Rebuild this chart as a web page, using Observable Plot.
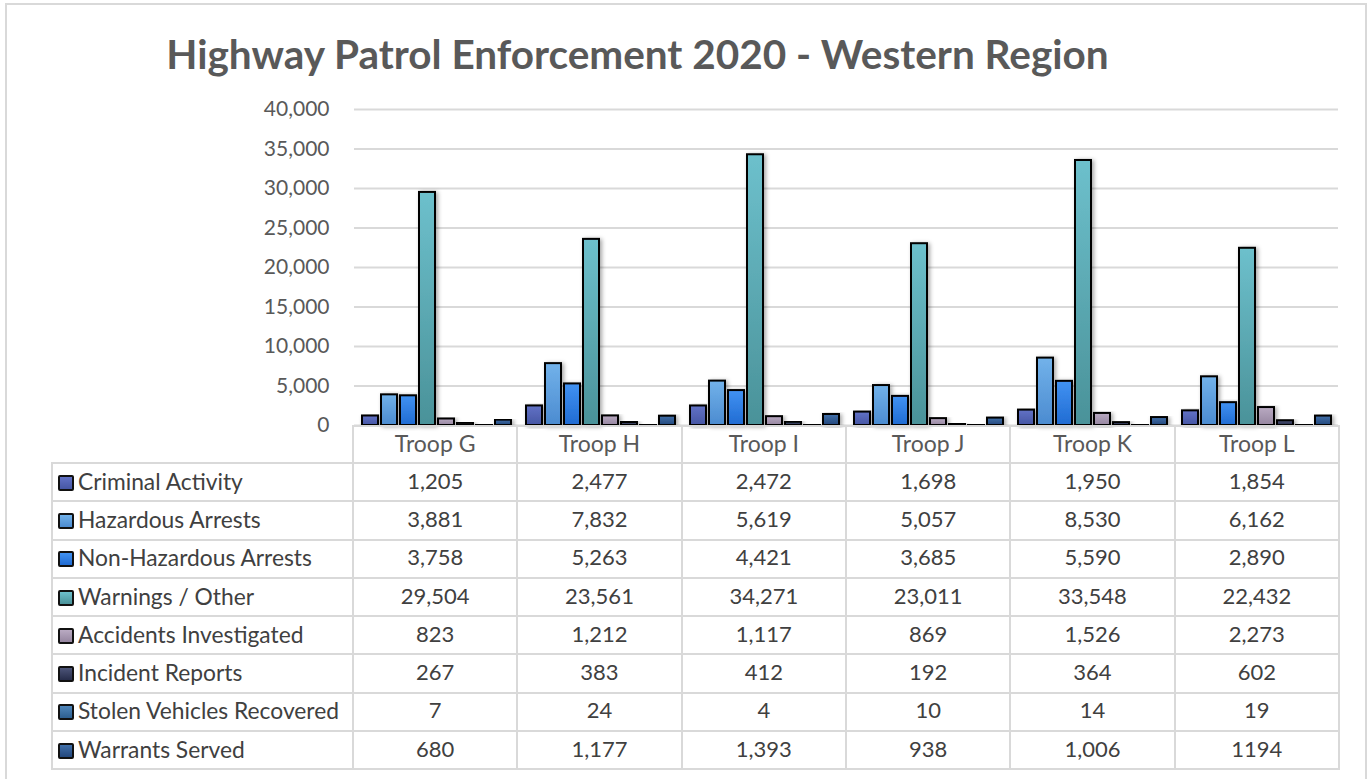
<!DOCTYPE html>
<html><head><meta charset="utf-8">
<script src="https://cdn.jsdelivr.net/npm/d3@7"></script>
<script src="https://cdn.jsdelivr.net/npm/@observablehq/plot@0.6"></script>
<style>
body{margin:0;background:#fff;width:1372px;height:779px;overflow:hidden;position:relative;font-family:Lato,"Open Sans",sans-serif;}
#frame{position:absolute;left:5px;top:3px;width:1362px;height:820px;border:2px solid #d9d9d9;border-bottom:none;box-sizing:border-box;}
#title{position:absolute;left:0;width:1275px;top:30px;text-align:center;font-size:40.5px;font-weight:bold;color:#595959;line-height:48px;}
#chart{position:absolute;left:0;top:0;}
table{position:absolute;left:51px;top:425px;border-collapse:collapse;table-layout:fixed;font-size:22px;color:#404040;}
td{border:2px solid #d9d9d9;padding:0 0 3px 0;text-align:center;white-space:nowrap;overflow:hidden;line-height:30px;}
tr{height:38.3px;}
tr.head{height:37px;}
tr.head td{color:#595959;font-size:23px;}
td.blank{border-top:hidden;border-left:hidden;}
td.lab{text-align:left;font-size:22.8px;}
.sw{display:inline-block;width:12px;height:12px;border:2px solid #111;border-radius:2px;vertical-align:-1px;margin-left:5px;margin-right:4px;}
</style></head>
<body>
<div id="frame"></div>
<div id="title">Highway Patrol Enforcement 2020 - Western Region</div>
<div id="chart"></div>
<script>
const troops = ["Troop G","Troop H","Troop I","Troop J","Troop K","Troop L"];
const series = ["Criminal Activity","Hazardous Arrests","Non-Hazardous Arrests","Warnings / Other","Accidents Investigated","Incident Reports","Stolen Vehicles Recovered","Warrants Served"];
const criminalActivity = [1205,2477,2472,1698,1950,1854];
const hazardousArrests = [3881,7832,5619,5057,8530,6162];
const nonHazardousArrests = [3758,5263,4421,3685,5590,2890];
const warningsOther = [29504,23561,34271,23011,33548,22432];
const accidentsInvestigated = [823,1212,1117,869,1526,2273];
const incidentReports = [267,383,412,192,364,602];
const stolenVehicles = [7,24,4,10,14,19];
const warrantsServed = [680,1177,1393,938,1006,1194];
const warrantsLabels = ["680","1,177","1,393","938","1,006","1194"];
const yTicks = [0,5000,10000,15000,20000,25000,30000,35000,40000];
const gradTop = ["#6272c6","#72b2ea","#4192f2","#6dc0cc","#b9aac2","#4c5478","#4f86ba","#4170aa"];
const gradBottom = ["#4656a4","#4b8bd0","#206bd2","#4a9299","#9686a0","#272d4a","#2d5f90","#23477c"];

const values = [criminalActivity,hazardousArrests,nonHazardousArrests,warningsOther,accidentsInvestigated,incidentReports,stolenVehicles,warrantsServed];
const data = series.flatMap((s,i)=>troops.map((t,j)=>({troop:t, series:s, value:values[i][j]})));
const fmt = d3.format(",");

const plot = Plot.plot({
  width:1372, height:445, marginTop:109, marginBottom:20, marginLeft:353, marginRight:34,
  style:{fontFamily:'Lato,"Open Sans",sans-serif', fontSize:"21px", color:"#595959", background:"transparent"},
  fx:{domain:troops, padding:0, axis:null, label:null},
  x:{domain:series, axis:null, paddingInner:0.18, paddingOuter:0.3},
  y:{domain:[0,40000], label:null},
  color:{domain:series, range:series.map((s,i)=>`url(#grad${i})`)},
  marks:[
    Plot.ruleY(yTicks,{stroke:"#d9d9d9", strokeWidth:2}),
    Plot.axisY({ticks:yTicks, tickFormat:fmt, tickSize:0, tickPadding:25, fontSize:21, fill:"#595959"}),
    Plot.barY(data,{fx:"troop", x:"series", y:"value", fill:"series", stroke:"#000", strokeWidth:2})
  ]
});
const svg = d3.select(plot);
const defs = svg.insert("defs",":first-child");
series.forEach((s,i)=>{
  const g = defs.append("linearGradient").attr("id",`grad${i}`).attr("x1",0).attr("y1",0).attr("x2",0).attr("y2",1);
  g.append("stop").attr("offset","0%").attr("stop-color",gradTop[i]);
  g.append("stop").attr("offset","100%").attr("stop-color",gradBottom[i]);
});
const f = defs.append("filter").attr("id","shadow").attr("x","-50%").attr("y","-10%").attr("width","200%").attr("height","130%");
f.append("feDropShadow").attr("dx",2).attr("dy",1).attr("stdDeviation",2).attr("flood-color","#000").attr("flood-opacity",0.35);
svg.selectAll('g[aria-label="bar"] rect').attr("filter","url(#shadow)");
document.getElementById("chart").appendChild(plot);

// data table
const table = document.createElement("table");
const cg = document.createElement("colgroup");
[301,...troops.map(()=>164.33)].forEach(w=>{const c=document.createElement("col");c.style.width=w+"px";cg.appendChild(c);});
table.appendChild(cg);
const head = document.createElement("tr"); head.className="head";
const blank = document.createElement("td"); blank.className="blank"; head.appendChild(blank);
troops.forEach(t=>{const td=document.createElement("td");td.textContent=t;head.appendChild(td);});
table.appendChild(head);
series.forEach((s,i)=>{
  const tr=document.createElement("tr");
  const lab=document.createElement("td"); lab.className="lab";
  const sw=document.createElement("span"); sw.className="sw";
  sw.style.background=`linear-gradient(to bottom, ${gradTop[i]}, ${gradBottom[i]})`;
  lab.appendChild(sw); lab.appendChild(document.createTextNode(s));
  tr.appendChild(lab);
  values[i].forEach((v,j)=>{const td=document.createElement("td");td.textContent = i===7 ? warrantsLabels[j] : fmt(v);tr.appendChild(td);});
  table.appendChild(tr);
});
document.body.appendChild(table);
</script>
</body></html>
